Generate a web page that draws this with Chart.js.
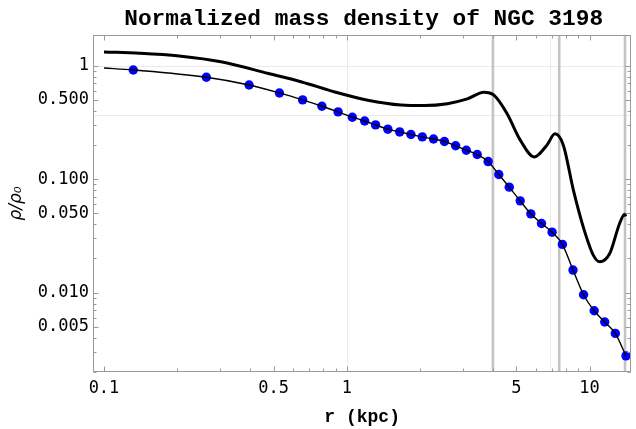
<!DOCTYPE html>
<html>
<head>
<meta charset="utf-8">
<script src="https://cdn.jsdelivr.net/npm/chart.js@4/dist/chart.umd.min.js"></script>
<style>
  html, body { margin: 0; padding: 0; background: #fff; }
  canvas { display: block; }
</style>
</head>
<body>
<canvas id="density-chart" width="636" height="429"></canvas>
<script>
// data points: radius (kpc) and normalized density
const dotR = [0.132, 0.264, 0.396, 0.528, 0.658, 0.790, 0.921, 1.054, 1.185, 1.314,
  1.476, 1.652, 1.838, 2.047, 2.277, 2.525, 2.809, 3.107, 3.446, 3.822,
  4.228, 4.67, 5.18, 5.73, 6.34, 7.01, 7.73, 8.55, 9.45, 10.45,
  11.55, 12.77, 14.13];
const dotRho = [0.918, 0.792, 0.677, 0.576, 0.500, 0.440, 0.392, 0.352, 0.326, 0.301,
  0.276, 0.261, 0.248, 0.236, 0.226, 0.215, 0.197, 0.180, 0.165, 0.143,
  0.110, 0.0851, 0.0644, 0.0495, 0.0407, 0.0341, 0.0266, 0.0158, 0.00957, 0.00692,
  0.00550, 0.00437, 0.00277];

// thin fit curve begins at r = 0.1 then runs through the points
const fitStartR = 0.1;
const fitStartRho = 0.956;

// thick wavy curve
const waveR = [0.1, 0.14, 0.204, 0.307, 0.476, 0.652, 0.893, 1.222, 1.673,
  2.085, 2.598, 3.137, 3.673, 4.036, 4.571, 5.184, 5.916, 6.67, 7.21,
  7.80, 8.58, 9.42, 10.36, 11.02, 12.11, 13.30, 13.95, 14.1];
const waveRho = [1.323, 1.29, 1.22, 1.08, 0.854, 0.720, 0.588, 0.497, 0.451,
  0.446, 0.463, 0.510, 0.584, 0.550, 0.379, 0.221, 0.157, 0.1995, 0.251,
  0.1995, 0.080, 0.038, 0.0214, 0.0187, 0.0221, 0.0407, 0.0492, 0.047];

// vertical marker lines and light grid lines
const markerR = [4.0, 7.5, 14.0];
const gridR = [1, 6.9];
const gridRho = [1, 0.368];

// axis range and labelled ticks
const xMin = 0.0901, xMax = 14.86;
const yMin = 0.001995, yMax = 1.868;
const xTickLabels = [0.1, 0.5, 1, 5, 10];
const yTickLabels = [1, 0.5, 0.1, 0.05, 0.01, 0.005];

function logTicks(min, max) {
  const out = [];
  for (let e = Math.floor(Math.log10(min)); e <= Math.ceil(Math.log10(max)); e++) {
    for (let m = 1; m <= 9; m++) {
      const v = parseFloat((m * Math.pow(10, e)).toPrecision(6));
      if (v >= min && v <= max) out.push(v);
    }
  }
  return out;
}
const xTicks = logTicks(xMin, xMax);
const yTicks = logTicks(yMin, yMax);
const isLabel = (list, v) => list.some(l => Math.abs(v - l) / l < 1e-6);

const fitData = [{x: fitStartR, y: fitStartRho}].concat(dotR.map((r, i) => ({x: r, y: dotRho[i]})));

const framePlugin = {
  id: 'frame',
  beforeDatasetsDraw(chart) {
    const {ctx, chartArea: a, scales: {x, y}} = chart;
    ctx.save();
    ctx.strokeStyle = '#ebebeb';
    ctx.lineWidth = 1;
    gridR.forEach(r => {
      const px = Math.round(x.getPixelForValue(r)) + 0.5;
      ctx.beginPath(); ctx.moveTo(px, a.top); ctx.lineTo(px, a.bottom); ctx.stroke();
    });
    gridRho.forEach(v => {
      const py = Math.round(y.getPixelForValue(v)) + 0.5;
      ctx.beginPath(); ctx.moveTo(a.left, py); ctx.lineTo(a.right, py); ctx.stroke();
    });
    ctx.strokeStyle = '#c4c4c4';
    ctx.lineWidth = 2.6;
    markerR.forEach(r => {
      const px = x.getPixelForValue(r);
      ctx.beginPath(); ctx.moveTo(px, a.top); ctx.lineTo(px, a.bottom); ctx.stroke();
    });
    ctx.restore();
  },
  afterDraw(chart) {
    const {ctx, chartArea: a, scales: {x, y}} = chart;
    ctx.save();
    ctx.strokeStyle = '#9a9a9a';
    ctx.lineWidth = 1;
    const l = Math.round(a.left) + 0.5, r = Math.round(a.right) - 0.5;
    const t = Math.round(a.top) + 0.5, b = Math.round(a.bottom) - 0.5;
    ctx.strokeRect(l, t, r - l, b - t);
    ctx.beginPath();
    xTicks.forEach(v => {
      const px = Math.round(x.getPixelForValue(v)) + 0.5;
      const len = isLabel(xTickLabels, v) ? 5 : 3;
      ctx.moveTo(px, b); ctx.lineTo(px, b - len);
      ctx.moveTo(px, t); ctx.lineTo(px, t + len);
    });
    yTicks.forEach(v => {
      const py = Math.round(y.getPixelForValue(v)) + 0.5;
      const len = isLabel(yTickLabels, v) ? 5 : 3;
      ctx.moveTo(l, py); ctx.lineTo(l + len, py);
      ctx.moveTo(r, py); ctx.lineTo(r - len, py);
    });
    ctx.stroke();
    // title centred over the plot area
    ctx.fillStyle = '#000';
    ctx.font = 'bold 22.8px "Liberation Mono"';
    ctx.textAlign = 'center';
    ctx.textBaseline = 'alphabetic';
    ctx.fillText('Normalized mass density of NGC 3198', (a.left + a.right) / 2 + 1.5, 25);
    ctx.restore();
  }
};

const tickFont = {family: '"DejaVu Sans Mono"', size: 17};

new Chart(document.getElementById('density-chart'), {
  type: 'scatter',
  data: {
    datasets: [{
      label: 'wave',
      data: waveR.map((r, i) => ({x: r, y: waveRho[i]})),
      showLine: true,
      borderColor: '#000',
      borderWidth: 3,
      pointRadius: 0,
      cubicInterpolationMode: 'monotone'
    }, {
      label: 'fit',
      data: fitData,
      showLine: true,
      borderColor: '#000',
      borderWidth: 1.4,
      pointRadius: 0,
      cubicInterpolationMode: 'monotone'
    }, {
      label: 'data',
      data: dotR.map((r, i) => ({x: r, y: dotRho[i]})),
      showLine: false,
      backgroundColor: '#0000ff',
      borderWidth: 0,
      pointRadius: 4.7
    }]
  },
  options: {
    responsive: false,
    animation: false,
    devicePixelRatio: 1,
    layout: {padding: {top: 35, right: 1, left: 0, bottom: 0}},
    plugins: {legend: {display: false}, tooltip: {enabled: false}, title: {display: false}},
    scales: {
      x: {
        type: 'logarithmic',
        position: 'bottom',
        min: xMin,
        max: xMax,
        grid: {display: false, drawTicks: false},
        border: {display: false},
        afterBuildTicks: s => { s.ticks = xTicks.map(v => ({value: v})); },
        afterFit: s => { s.height = 57; },
        ticks: {
          autoSkip: false, maxRotation: 0, minRotation: 0, padding: 6,
          color: '#000', font: tickFont,
          callback: v => isLabel(xTickLabels, v) ? String(v) : ''
        },
        title: {
          display: true, text: 'r (kpc)', color: '#000',
          font: {family: '"Liberation Mono"', size: 18, weight: 'bold'},
          padding: {top: 0, bottom: 1}
        }
      },
      y: {
        type: 'logarithmic',
        position: 'left',
        min: yMin,
        max: yMax,
        grid: {display: false, drawTicks: false},
        border: {display: false},
        afterBuildTicks: s => { s.ticks = yTicks.map(v => ({value: v})); },
        afterFit: s => { s.width = 93; },
        ticks: {
          autoSkip: false, padding: 4, color: '#000', font: tickFont,
          callback: v => isLabel(yTickLabels, v) ? (v === 1 ? '1' : v.toFixed(3)) : ''
        },
        title: {
          display: true, text: 'ρ/ρ₀', color: '#000',
          font: {family: '"DejaVu Sans"', size: 17, style: 'italic'},
          padding: {top: 6, bottom: 0}
        }
      }
    }
  },
  plugins: [framePlugin]
});
</script>
</body>
</html>
